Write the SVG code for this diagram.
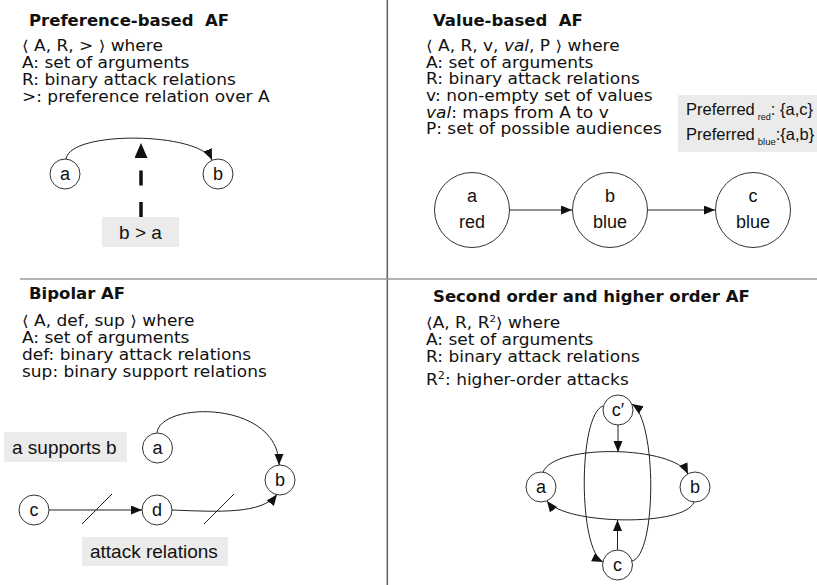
<svg xmlns="http://www.w3.org/2000/svg" width="817" height="585" viewBox="0 0 817 585">
<style>
.title{font-family:"DejaVu Sans",Verdana,sans-serif;font-weight:bold;font-size:16.5px;fill:#111;white-space:pre}
.body{font-family:"DejaVu Sans",Verdana,sans-serif;font-size:15px;fill:#111;white-space:pre}
.lbl{font-family:"Liberation Sans",Arial,sans-serif;font-size:18px;fill:#111;text-anchor:middle}
.box{fill:#ebebeb}
.boxt{font-family:"Liberation Sans",Arial,sans-serif;font-size:19px;fill:#111}
.pref{font-family:"Liberation Sans",Arial,sans-serif;font-size:16.5px;fill:#111}
.node{fill:#fff;stroke:#333;stroke-width:1}
.edge{fill:none;stroke:#222;stroke-width:1}
.div{stroke-width:1.6}
</style>
<defs>
<marker id="ah" markerWidth="12" markerHeight="10" refX="11" refY="4.5" orient="auto" markerUnits="userSpaceOnUse"><path d="M0,0 L11,4.5 L0,9 z" fill="#111"/></marker>
<marker id="ahBig" markerWidth="16" markerHeight="14" refX="0" refY="6.5" orient="auto" markerUnits="userSpaceOnUse"><path d="M0,0 L15,6.5 L0,13 z" fill="#111"/></marker>
</defs>
<rect width="817" height="585" fill="#fff"/>
<g id="dividers">
<line class="div" x1="387.3" y1="0" x2="387.3" y2="585" stroke="#666"/>
<line class="div" x1="20" y1="279" x2="817" y2="279" stroke="#999"/>
</g>

<!-- Preference-based AF -->
<g id="pref-text">
<text class="title" x="29" y="26">Preference-based  AF</text>
<g transform="translate(22 0) scale(1.133 1)">
<text class="body" x="0" y="51">⟨ A, R, &gt; ⟩ where</text>
<text class="body" x="0" y="68">A: set of arguments</text>
<text class="body" x="0" y="85">R: binary attack relations</text>
<text class="body" x="0" y="102">&gt;: preference relation over A</text>
</g>
</g>
<g id="pref-a"><circle class="node" cx="65" cy="174" r="15"/><text class="lbl" x="65" y="180">a</text></g>
<g id="pref-b"><circle class="node" cx="218" cy="174" r="15"/><text class="lbl" x="218" y="180">b</text></g>
<g id="pref-ba"><rect class="box" x="102" y="217" width="77" height="30"/><text class="boxt" x="140.5" y="239" text-anchor="middle">b &gt; a</text></g>

<!-- Value-based AF -->
<g id="val-text">
<text class="title" x="433" y="26">Value-based  AF</text>
<g transform="translate(426 0) scale(1.133 1)">
<text class="body" x="0" y="51.5">⟨ A, R, v, <tspan font-style="italic">val</tspan>, P ⟩ where</text>
<text class="body" x="0" y="68">A: set of arguments</text>
<text class="body" x="0" y="84.5">R: binary attack relations</text>
<text class="body" x="0" y="101">v: non-empty set of values</text>
<text class="body" x="0" y="118"><tspan font-style="italic">val</tspan>: maps from A to v</text>
<text class="body" x="0" y="134.5">P: set of possible audiences</text>
</g>
</g>
<g id="val-pref">
<rect class="box" x="678" y="95" width="139" height="57"/>
<text class="pref" x="686" y="115">Preferred<tspan dx="3" dy="5" font-size="9">red</tspan><tspan dy="-5">: {a,c}</tspan></text>
<text class="pref" x="686" y="140">Preferred<tspan dx="3" dy="5" font-size="9.5">blue</tspan><tspan dy="-5">:{a,b}</tspan></text>
</g>
<g id="val-a"><circle class="node" cx="472" cy="210" r="37.5"/><text class="lbl" x="472" y="202">a</text><text class="lbl" x="472" y="228">red</text></g>
<g id="val-b"><circle class="node" cx="610" cy="210" r="37.5"/><text class="lbl" x="610" y="202">b</text><text class="lbl" x="610" y="228">blue</text></g>
<g id="val-c"><circle class="node" cx="753" cy="210" r="37.5"/><text class="lbl" x="753" y="202">c</text><text class="lbl" x="753" y="228">blue</text></g>

<!-- Bipolar AF -->
<g id="bip-text">
<text class="title" x="29" y="299">Bipolar AF</text>
<g transform="translate(22 0) scale(1.133 1)">
<text class="body" x="0" y="326">⟨ A, def, sup ⟩ where</text>
<text class="body" x="0" y="343">A: set of arguments</text>
<text class="body" x="0" y="360">def: binary attack relations</text>
<text class="body" x="0" y="377">sup: binary support relations</text>
</g>
</g>
<g id="bip-sup"><rect class="box" x="4" y="432" width="123" height="30"/><text class="boxt" x="12" y="454">a supports b</text></g>
<g id="bip-att"><rect class="box" x="82" y="537" width="146" height="29"/><text class="boxt" x="90" y="558">attack relations</text></g>
<g id="bip-a"><circle class="node" cx="157.5" cy="448" r="15"/><text class="lbl" x="157.5" y="454">a</text></g>
<g id="bip-b"><circle class="node" cx="280" cy="480" r="15"/><text class="lbl" x="280" y="486">b</text></g>
<g id="bip-c"><circle class="node" cx="34" cy="510" r="15"/><text class="lbl" x="34" y="516">c</text></g>
<g id="bip-d"><circle class="node" cx="157" cy="510" r="15"/><text class="lbl" x="157" y="516">d</text></g>

<!-- Second order AF -->
<g id="so-text">
<text class="title" x="433" y="302">Second order and higher order AF</text>
<g transform="translate(426 0) scale(1.133 1)">
<text class="body" x="0" y="328">⟨A, R, R<tspan font-size="9" dy="-6">2</tspan><tspan dy="6">⟩ where</tspan></text>
<text class="body" x="0" y="345">A: set of arguments</text>
<text class="body" x="0" y="362">R: binary attack relations</text>
<text class="body" x="0" y="385">R<tspan font-size="10" dy="-6">2</tspan><tspan dy="6">: higher-order attacks</tspan></text>
</g>
</g>
<g id="so-cp"><circle class="node" cx="618" cy="410" r="15"/><text class="lbl" x="618" y="416">c′</text></g>
<g id="so-a"><circle class="node" cx="541" cy="487" r="15"/><text class="lbl" x="541" y="493">a</text></g>
<g id="so-b"><circle class="node" cx="695" cy="487" r="15"/><text class="lbl" x="695" y="493">b</text></g>
<g id="so-c"><circle class="node" cx="617.5" cy="565" r="15"/><text class="lbl" x="617.5" y="571">c</text></g>

<g id="connectors">
<!-- preference -->
<path class="edge" d="M66,159 C70,130 200,132 212,160" marker-end="url(#ah)"/>
<path d="M141,217 L141,158" fill="none" stroke="#111" stroke-width="3.5" stroke-dasharray="15 16.5" marker-end="url(#ahBig)"/>
<!-- value -->
<path class="edge" d="M510,210 L572,210" marker-end="url(#ah)"/>
<path class="edge" d="M648,210 L715,210" marker-end="url(#ah)"/>
<!-- bipolar -->
<path class="edge" d="M157,433 C160,401 279,400 279,465" marker-end="url(#ah)"/>
<path class="edge" d="M49,510 L142,510" marker-end="url(#ah)"/>
<path class="edge" d="M172,510 C220,512 262,514 277,494.5" marker-end="url(#ah)"/>
<line class="edge" x1="82" y1="524" x2="112" y2="494"/>
<line class="edge" x1="204" y1="524" x2="234" y2="494"/>
<!-- second order -->
<path class="edge" d="M543,472 C555,443 675,446 688,474" marker-end="url(#ah)"/>
<path class="edge" d="M694,502 C685,527 565,525 547,501" marker-end="url(#ah)"/>
<path class="edge" d="M618,425 L618,452" marker-end="url(#ah)"/>
<path class="edge" d="M617.5,550 L617.5,520" marker-end="url(#ah)"/>
<path class="edge" d="M603,406 C578,415 578,550 603,562" marker-end="url(#ah)"/>
<path class="edge" d="M632,561 C657,555 657,420 632,404" marker-end="url(#ah)"/>
</g>
</svg>
